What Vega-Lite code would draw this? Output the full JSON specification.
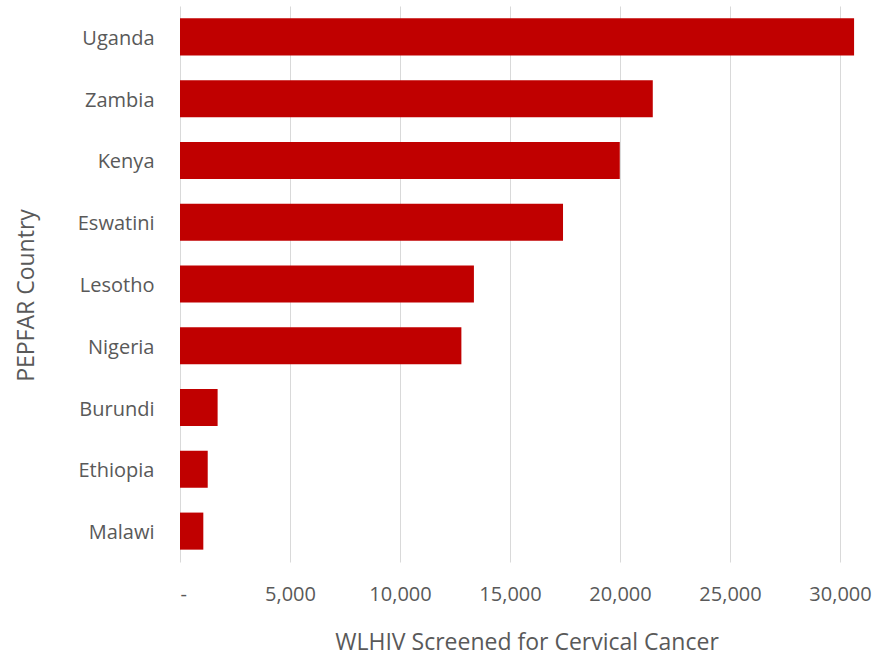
{
  "$schema": "https://vega.github.io/schema/vega-lite/v6.json",
  "width": 693,
  "height": 556,
  "autosize": "none",
  "padding": {"left": 180, "top": 6, "right": 17, "bottom": 95},
  "background": "white",
  "data": {
    "values": [
      {"country": "Uganda", "screened": 30640},
      {"country": "Zambia", "screened": 21490},
      {"country": "Kenya", "screened": 19990},
      {"country": "Eswatini", "screened": 17410},
      {"country": "Lesotho", "screened": 13360},
      {"country": "Nigeria", "screened": 12790},
      {"country": "Burundi", "screened": 1710},
      {"country": "Ethiopia", "screened": 1260},
      {"country": "Malawi", "screened": 1060}
    ]
  },
  "mark": {"type": "bar", "color": "#C00000"},
  "encoding": {
    "y": {
      "field": "country",
      "type": "nominal",
      "sort": null,
      "scale": {"paddingInner": 0.4, "paddingOuter": 0.2},
      "axis": {
        "title": "PEPFAR Country",
        "domain": false,
        "ticks": false,
        "tickSize": 0,
        "grid": false,
        "labelPadding": 26,
        "labelOffset": 2,
        "labelFont": "Open Sans",
        "labelFontSize": 20,
        "labelColor": "#595959",
        "titleFont": "Open Sans",
        "titleFontSize": 23,
        "titleFontWeight": "normal",
        "titleColor": "#595959",
        "titleX": -147,
        "titleY": 289,
        "titleAngle": -90,
        "titleAlign": "center",
        "titleBaseline": "alphabetic"
      }
    },
    "x": {
      "field": "screened",
      "type": "quantitative",
      "scale": {"domain": [0, 31500], "nice": false},
      "axis": {
        "title": "WLHIV Screened for Cervical Cancer",
        "values": [0, 5000, 10000, 15000, 20000, 25000, 30000],
        "labelExpr": "datum.value == 0 ? '-' : format(datum.value, ',')",
        "domain": false,
        "ticks": false,
        "tickSize": 0,
        "grid": true,
        "gridColor": "#d9d9d9",
        "gridWidth": 1,
        "labelPadding": 22,
        "labelFont": "Open Sans",
        "labelFontSize": 20,
        "labelColor": "#595959",
        "titleFont": "Open Sans",
        "titleFontSize": 23,
        "titleFontWeight": "normal",
        "titleColor": "#595959",
        "titleBaseline": "alphabetic",
        "titleY": 87
      }
    }
  },
  "config": {"view": {"stroke": null}}
}
